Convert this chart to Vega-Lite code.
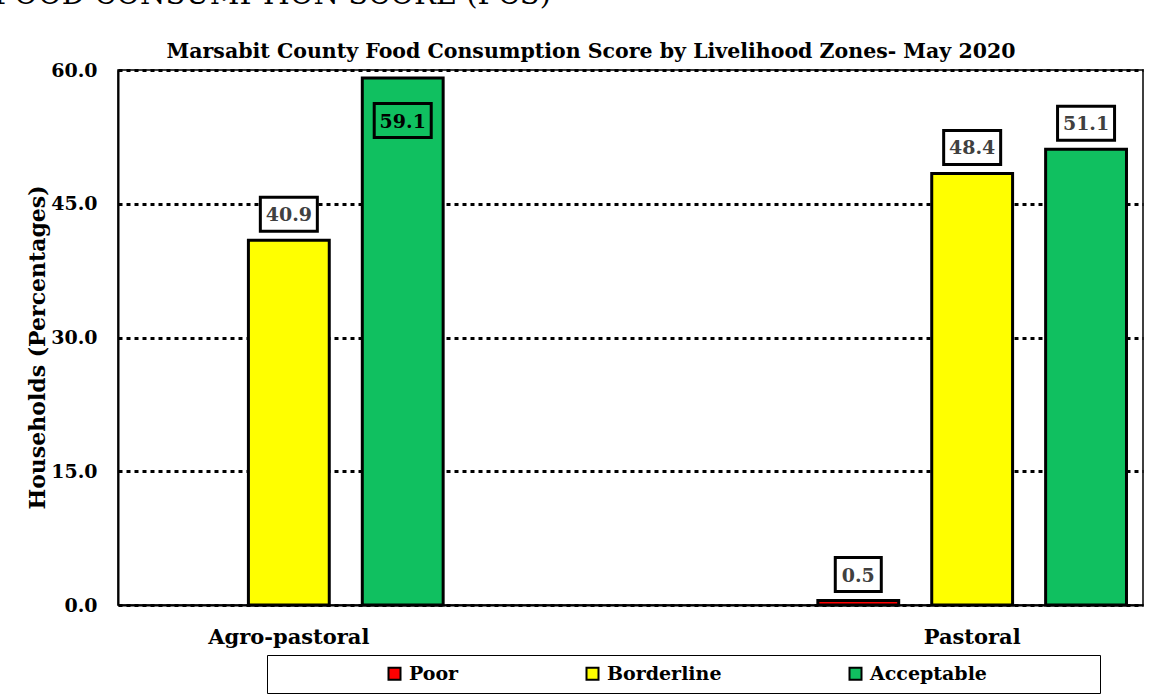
{
  "$schema": "https://vega.github.io/schema/vega-lite/v6.json",
  "autosize": {"type": "none"},
  "width": 1025,
  "height": 535,
  "padding": {"left": 118, "top": 70, "right": 17, "bottom": 94},
  "background": "white",
  "title": {
    "text": "FOOD CONSUMPTION SCORE (FCS)",
    "anchor": "start",
    "frame": "group",
    "dx": -124,
    "offset": 20,
    "dy": 12,
    "baseline": "alphabetic",
    "font": "DejaVu Serif",
    "fontSize": 29,
    "fontWeight": "normal",
    "color": "black"
  },
  "config": {
    "view": {"stroke": "black", "strokeWidth": 1.5},
    "font": "DejaVu Serif",
    "legend": {"strokeColor": "black", "fillColor": "white"}
  },
  "data": {
    "values": [
      {"zone": "Agro-pastoral", "category": "Borderline", "value": 40.9},
      {"zone": "Agro-pastoral", "category": "Acceptable", "value": 59.1},
      {"zone": "Pastoral", "category": "Poor", "value": 0.5},
      {"zone": "Pastoral", "category": "Borderline", "value": 48.4},
      {"zone": "Pastoral", "category": "Acceptable", "value": 51.1}
    ]
  },
  "resolve": {"axis": {"x": "independent"}},
  "layer": [
    {
      "mark": {"type": "bar", "stroke": "black", "strokeWidth": 3},
      "encoding": {
        "x": {
          "field": "zone", "type": "nominal", "sort": ["Agro-pastoral", "Pastoral"],
          "scale": {"paddingInner": 0.5, "paddingOuter": 0},
          "axis": {
            "title": null, "labelAngle": 0, "labelFont": "DejaVu Serif", "labelFontSize": 21,
            "labelFontWeight": "bold", "labelColor": "black", "labelPadding": 21,
            "ticks": false, "domain": true, "domainColor": "black", "domainWidth": 2, "grid": false
          }
        },
        "xOffset": {
          "field": "category", "type": "nominal",
          "scale": {"domain": ["Poor", "Borderline", "Acceptable"], "paddingInner": 0.29, "paddingOuter": 0.145}
        },
        "y": {
          "field": "value", "type": "quantitative",
          "scale": {"domain": [0, 60]},
          "axis": {
            "title": "Households (Percentages)", "titleFont": "DejaVu Serif", "titleFontSize": 22,
            "titleFontWeight": "bold", "titleColor": "black", "titleX": -74, "titleY": 277,
            "titleAlign": "center", "titleBaseline": "alphabetic", "titleAngle": 270,
            "values": [0, 15, 30, 45, 60], "format": ".1f",
            "labelFont": "DejaVu Serif", "labelFontSize": 19, "labelFontWeight": "bold",
            "labelColor": "black", "labelPadding": 21, "ticks": false,
            "domain": true, "domainColor": "black", "domainWidth": 2,
            "grid": true, "gridColor": "black", "gridDash": [4, 4], "gridWidth": 3
          }
        },
        "color": {
          "field": "category", "type": "nominal",
          "scale": {"domain": ["Poor", "Borderline", "Acceptable"], "range": ["#FF0000", "#FFFF00", "#10C060"]},
          "legend": {
            "orient": "none", "legendX": 149, "legendY": 585, "direction": "horizontal",
            "title": "\u2800\u2800\u2800\u2800\u2800\u2800\u2800\u2800",
            "titleOrient": "left", "titleFont": "DejaVu Serif", "titleFontSize": 17, "titlePadding": 2, "titleLimit": 1000,
            "labelFont": "DejaVu Serif", "labelFontSize": 19, "labelFontWeight": "bold", "labelColor": "black",
            "labelOffset": 5, "labelLimit": 1000,
            "labelExpr": "datum.label == 'Acceptable' ? 'Acceptable\u2800\u2800\u2800\u2800\u2800\u2800\u2800' : datum.label",
            "columnPadding": 123, "symbolType": "square", "symbolSize": 144,
            "symbolStrokeColor": "black", "symbolStrokeWidth": 2,
            "padding": 9
          }
        }
      }
    },
    {
      "transform": [{"filter": "datum.value < 55"}],
      "mark": {"type": "point", "filled": true, "fill": "white", "stroke": "black", "strokeWidth": 3, "opacity": 1, "yOffset": -26},
      "encoding": {
        "x": {"field": "zone", "type": "nominal", "sort": ["Agro-pastoral", "Pastoral"], "axis": null},
        "xOffset": {"field": "category", "type": "nominal", "scale": {"domain": ["Poor", "Borderline", "Acceptable"]}},
        "y": {"field": "value", "type": "quantitative"},
        "shape": {
          "condition": {"test": "datum.value < 1", "value": "M-1,-0.739H1V0.739H-1Z"},
          "value": "M-1,-0.596H1V0.596H-1Z"
        },
        "size": {"condition": {"test": "datum.value < 1", "value": 2116}, "value": 3249}
      }
    },
    {
      "transform": [{"filter": "datum.value < 55"}],
      "mark": {"type": "text", "font": "DejaVu Serif", "fontSize": 19, "fontWeight": "bold", "color": "#404040", "baseline": "middle", "yOffset": -25},
      "encoding": {
        "x": {"field": "zone", "type": "nominal", "sort": ["Agro-pastoral", "Pastoral"], "axis": null},
        "xOffset": {"field": "category", "type": "nominal", "scale": {"domain": ["Poor", "Borderline", "Acceptable"]}},
        "y": {"field": "value", "type": "quantitative"},
        "text": {"field": "value", "type": "quantitative", "format": ".1f"}
      }
    },
    {
      "transform": [{"filter": "datum.value >= 55"}],
      "mark": {"type": "point", "filled": true, "fill": "#10C060", "stroke": "black", "strokeWidth": 3, "opacity": 1, "yOffset": 42.5, "shape": "M-1,-0.596H1V0.596H-1Z", "size": 3249},
      "encoding": {
        "x": {"field": "zone", "type": "nominal", "sort": ["Agro-pastoral", "Pastoral"], "axis": null},
        "xOffset": {"field": "category", "type": "nominal", "scale": {"domain": ["Poor", "Borderline", "Acceptable"]}},
        "y": {"field": "value", "type": "quantitative"}
      }
    },
    {
      "transform": [{"filter": "datum.value >= 55"}],
      "mark": {"type": "text", "font": "DejaVu Serif", "fontSize": 19, "fontWeight": "bold", "color": "black", "baseline": "middle", "yOffset": 43.5},
      "encoding": {
        "x": {
          "field": "zone", "type": "nominal", "sort": ["Agro-pastoral", "Pastoral"],
          "axis": {
            "orient": "top", "labels": false, "ticks": false, "domain": false, "grid": false,
            "title": "Marsabit County Food Consumption Score by Livelihood Zones- May 2020",
            "titleFont": "DejaVu Serif", "titleFontSize": 20.5, "titleFontWeight": "bold", "titleColor": "black",
            "titleX": 472.5, "titleY": -13, "titleAlign": "center", "titleBaseline": "alphabetic", "titleAngle": 0
          }
        },
        "xOffset": {"field": "category", "type": "nominal", "scale": {"domain": ["Poor", "Borderline", "Acceptable"]}},
        "y": {"field": "value", "type": "quantitative"},
        "text": {"field": "value", "type": "quantitative", "format": ".1f"}
      }
    }
  ]
}
